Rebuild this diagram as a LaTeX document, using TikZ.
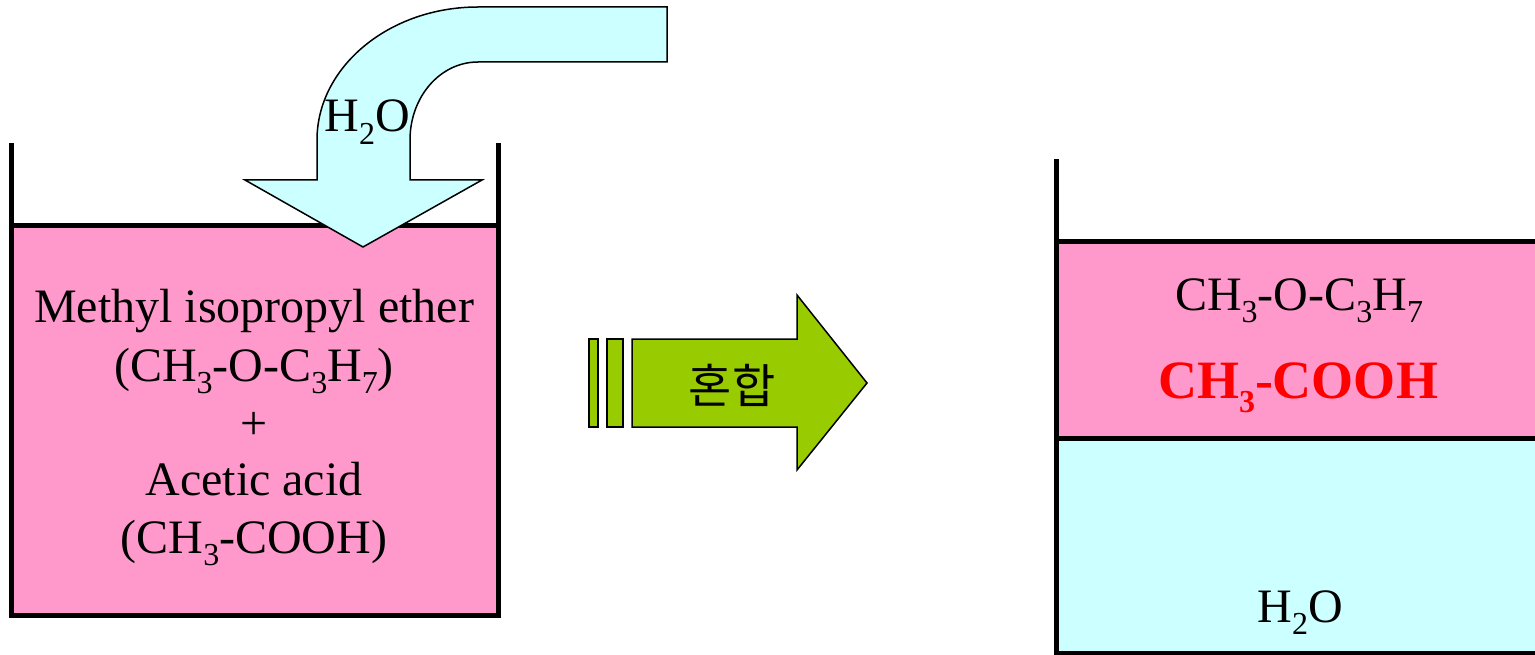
\documentclass[tikz,border=0pt]{standalone}
\usepackage{fontspec}
\setmainfont{Liberation Serif}
\newfontfamily\krfont{Noto Sans CJK KR}
\definecolor{pinkliq}{HTML}{FF99CC}
\definecolor{cyanliq}{HTML}{CCFFFF}
\definecolor{greenarr}{HTML}{99CC00}
\newcommand\sbs[1]{\raisebox{-0.27em}{\fontsize{32}{32}\selectfont #1}}
\tikzset{
  wall/.style={line width=5pt},
  arrowshape/.style={draw=black, line width=1.5pt, line join=miter},
  lbl/.style={font=\fontsize{48}{58}\selectfont, inner sep=0pt, anchor=base},
}
\begin{document}
\begin{tikzpicture}[x=1pt,y=-1pt]
\useasboundingbox (0,0) rectangle (1535,655);
% left beaker
\fill[pinkliq] (11,226) rectangle (498,615);
\draw[wall] (11,143) -- (11,615) -- (498,615) -- (498,143);
\draw[wall] (11,226) -- (498,226);
% bent water arrow
\draw[arrowshape, fill=cyanliq]
  (667,7) -- (478,7) .. controls (389,7) and (317,67) .. (317,140)
  -- (317,180) -- (245,180) -- (363,247) -- (482,180) -- (410,180) -- (410,140)
  .. controls (410,97) and (440,62) .. (478,62) -- (667,62) -- cycle;
\node[lbl] (h2oin) at (367,132) {H\sbs{2}O};
% left texts
\node[lbl] (l1) at (254,323) {Methyl isopropyl ether};
\node[lbl] (l2) at (254,381) {(CH\sbs{3}-O-C\sbs{3}H\sbs{7})};
\node[lbl] (l3) at (254,439) {+};
\node[lbl] (l4) at (254,495) {Acetic acid};
\node[lbl] (l5) at (254,553) {(CH\sbs{3}-COOH)};
% middle arrow
\draw[arrowshape, fill=greenarr] (589,339) rectangle (598,427);
\draw[arrowshape, fill=greenarr] (607,339) rectangle (623,427);
\draw[arrowshape, fill=greenarr]
  (632,339) -- (797,339) -- (797,295) -- (867,383) -- (797,470) -- (797,427) -- (632,427) -- cycle;
\node[font=\krfont\fontsize{47}{47}\selectfont, inner sep=0pt] (mix) at (732,385) {혼합};
% right beaker
\fill[cyanliq] (1056,438) rectangle (1545,653);
\fill[pinkliq] (1056,242) rectangle (1545,438);
\draw[wall] (1056,159) -- (1056,653) -- (1545,653);
\draw[wall] (1056,242) -- (1545,242);
\draw[wall] (1056,438) -- (1545,438);
\node[lbl] (r1) at (1299,310) {CH\sbs{3}-O-C\sbs{3}H\sbs{7}};
\node[lbl, font=\fontsize{54}{60}\selectfont\bfseries, text=red] (r2) at (1298,398) {CH\sbs{3}-COOH};
\node[lbl] (r3) at (1300,622) {H\sbs{2}O};
\end{tikzpicture}
\end{document}
